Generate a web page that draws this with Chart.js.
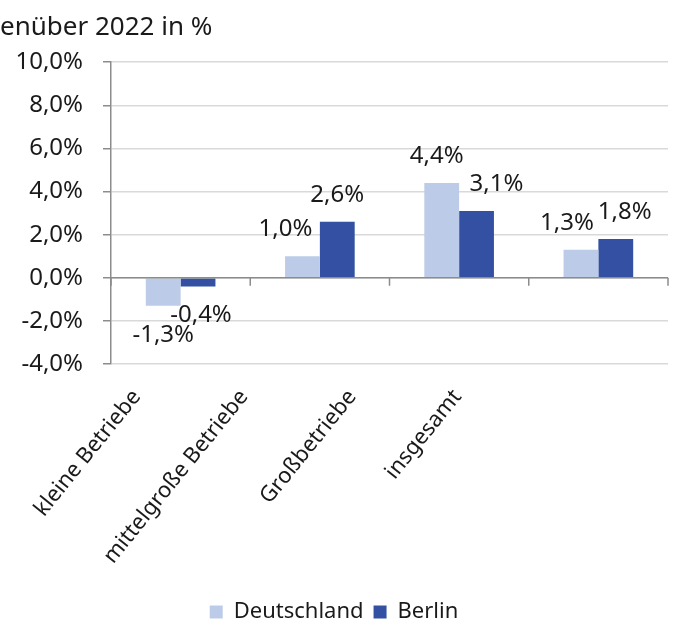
<!DOCTYPE html>
<html lang="de">
<head>
<meta charset="UTF-8">
<title>Veränderung gegenüber 2022 in %</title>
<script src="https://cdn.jsdelivr.net/npm/chart.js"></script>
<style>
  html, body { margin: 0; padding: 0; background: #fff; }
  .chart-box { position: relative; width: 677px; height: 619px; }
</style>
</head>
<body>
<div class="chart-box"><canvas id="chart"></canvas></div>
<script>
// Daten
const categories = ['kleine Betriebe', 'mittelgroße Betriebe', 'Großbetriebe', 'insgesamt'];
const deutschland = [-1.3, 1.0, 4.4, 1.3];
const berlin = [-0.4, 2.6, 3.1, 1.8];
const yTicks = [-4, -2, 0, 2, 4, 6, 8, 10];
const titleText = 'enüber 2022 in %';

// Verschiebung der Wertelabels in px (wie im Original, gegen Überlappung)
const labelNudge = [[0, -17, -5, -14], [3, 0, 20, 9]];
// Kategorielabels stehen im Original weiter links
const catLabelShift = [-44, -76, -107, -141];

const FONT = "'Noto Sans', sans-serif";
const TEXT = '#1a1a1a';
const fmt = v => v.toFixed(1).replace('.', ',') + '%';

// Werte über/unter den Balken
const valueLabels = {
    id: 'valueLabels',
    afterDatasetsDraw(chart) {
        const ctx = chart.ctx;
        ctx.save();
        ctx.font = '24px ' + FONT;
        ctx.fillStyle = TEXT;
        ctx.textAlign = 'center';
        ctx.textBaseline = 'middle';
        chart.data.datasets.forEach((ds, di) => {
            chart.getDatasetMeta(di).data.forEach((bar, i) => {
                const v = ds.data[i];
                const y = v >= 0 ? bar.y - 27 : bar.y + 29;
                ctx.fillText(fmt(v), bar.x + labelNudge[di][i], y);
            });
        });
        ctx.restore();
    }
};

// Nulllinie mit Teilstrichen + gedrehte Kategorienamen
const categoryAxis = {
    id: 'categoryAxis',
    afterDraw(chart) {
        const { ctx, chartArea } = chart;
        const x = chart.scales.x;
        const y0 = chart.scales.y.getPixelForValue(0);
        const n = categories.length;
        ctx.save();
        ctx.strokeStyle = '#8c8c8c';
        ctx.lineWidth = 1.5;
        ctx.beginPath();
        ctx.moveTo(chartArea.left, y0);
        ctx.lineTo(chartArea.right, y0);
        for (let i = 0; i <= n; i++) {
            const xb = x.left + i * x.width / n;
            ctx.moveTo(xb, y0);
            ctx.lineTo(xb, y0 + 8);
        }
        ctx.stroke();

        ctx.font = '22px ' + FONT;
        ctx.fillStyle = TEXT;
        ctx.textAlign = 'right';
        ctx.textBaseline = 'middle';
        categories.forEach((c, i) => {
            ctx.save();
            ctx.translate(x.getPixelForValue(i) + catLabelShift[i], chartArea.bottom + 29);
            ctx.rotate(-51 * Math.PI / 180);
            ctx.fillText(c, 0, 0);
            ctx.restore();
        });
        ctx.restore();
    }
};

new Chart(document.getElementById('chart').getContext('2d'), {
    type: 'bar',
    data: {
        labels: categories,
        datasets: [{
            label: 'Deutschland',
            data: deutschland,
            backgroundColor: '#bccbe7',
            borderWidth: 0,
            categoryPercentage: 0.5,
            barPercentage: 1.0
        }, {
            label: 'Berlin',
            data: berlin,
            backgroundColor: '#3350a2',
            borderWidth: 0,
            categoryPercentage: 0.5,
            barPercentage: 1.0
        }]
    },
    options: {
        responsive: true,
        maintainAspectRatio: false,
        animation: false,
        layout: { padding: { left: 0, right: 9, top: 0, bottom: -14 } },
        scales: {
            x: {
                grid: { display: false },
                border: { display: false },
                ticks: { display: false },
                afterFit: s => { s.height = 227; }
            },
            y: {
                min: -4,
                max: 10,
                afterBuildTicks: s => { s.ticks = yTicks.map(v => ({ value: v })); },
                border: { color: '#8c8c8c', width: 1.5 },
                grid: {
                    color: '#d9d9d9',
                    tickColor: '#8c8c8c',
                    tickLength: 8,
                    lineWidth: 1.5
                },
                ticks: {
                    font: { family: FONT, size: 24 },
                    color: TEXT,
                    padding: 20,
                    callback: v => fmt(v)
                },
                afterFit: s => { s.width = 111; }
            }
        },
        plugins: {
            title: {
                display: true,
                text: titleText,
                align: 'start',
                color: TEXT,
                font: { family: FONT, size: 26, weight: 'normal' },
                padding: { top: 12, bottom: 19 }
            },
            legend: {
                position: 'bottom',
                labels: {
                    font: { family: FONT, size: 22 },
                    color: TEXT,
                    boxWidth: 13,
                    boxHeight: 13,
                    padding: 10
                }
            },
            tooltip: { enabled: false }
        }
    },
    plugins: [valueLabels, categoryAxis]
});
</script>
</body>
</html>
